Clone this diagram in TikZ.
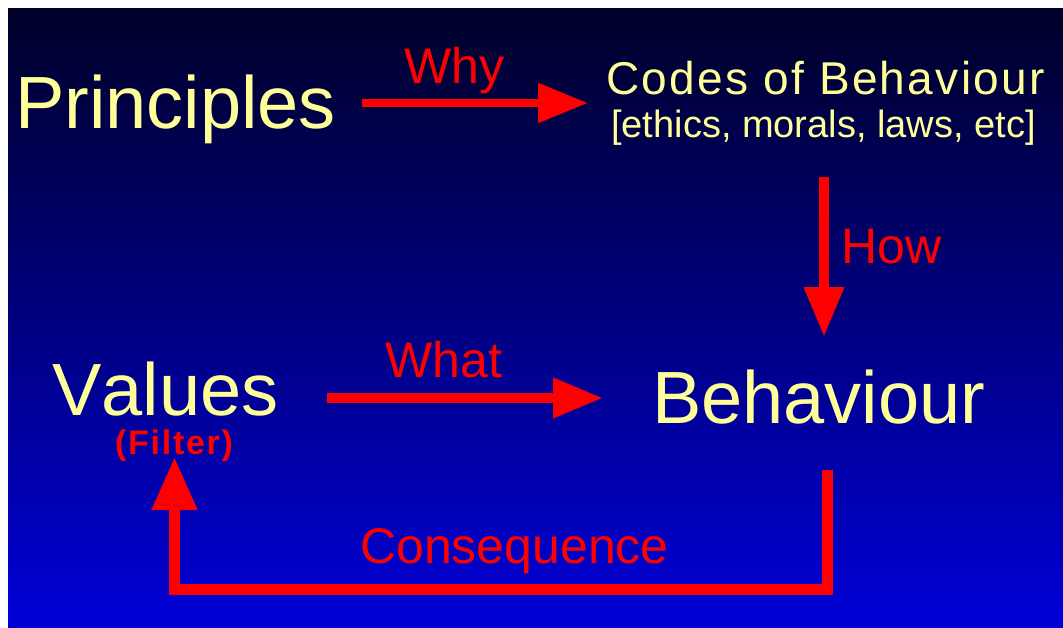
\documentclass[tikz,border=0pt]{standalone}
\usepackage{fontspec}
\setmainfont[Kerning=Off]{Liberation Sans}
\usetikzlibrary{arrows.meta}
\definecolor{txtyellow}{RGB}{255,255,153}
\definecolor{arrred}{RGB}{255,0,0}
\definecolor{bgtop}{RGB}{0,0,40}
\definecolor{bgbot}{RGB}{0,0,215}
\begin{document}
\begin{tikzpicture}[x=1pt,y=-1pt,
  bigtext/.style={text=txtyellow,font=\fontsize{74}{80}\selectfont,inner sep=0pt,anchor=base west},
  lbl/.style={text=arrred,font=\fontsize{50}{56}\selectfont,inner sep=0pt,anchor=base west},
  conn/.style={draw=arrred,line width=10pt,-{Triangle[length=50pt,width=38pt]}},
]
\useasboundingbox (0,0) rectangle (1063,627);
\shade[top color=bgtop,bottom color=bgbot] (8,8) rectangle (1063,627);

\node[bigtext] (principles) at (15,128) {Principles};
\node[text=txtyellow,font=\fontsize{46}{50}\selectfont\addfontfeature{LetterSpace=5},inner sep=0pt,anchor=base west] (codes) at (606,94) {Codes of Behaviour};
\node[text=txtyellow,font=\fontsize{38}{42}\selectfont,inner sep=0pt,anchor=base west] (ethics) at (611,137) {[ethics, morals, laws, etc]};
\node[bigtext] (values) at (52,415) {Values};
\node[text=arrred,font=\fontsize{34}{38}\selectfont\bfseries\addfontfeature{LetterSpace=5},inner sep=0pt,anchor=base west] (filter) at (115,454) {(Filter)};
\node[bigtext] (behaviour) at (652,423) {Behaviour};

\node[lbl] (why) at (404,83) {Why};
\node[lbl] (how) at (841,263) {How};
\node[lbl] (what) at (385,377) {What};
\node[lbl] (consequence) at (360,563) {Consequence};

\coordinate (whyS) at (362,103);
\coordinate (whyE) at (588,103);
\coordinate (howS) at (824,177);
\coordinate (howE) at (824,337);
\coordinate (whatS) at (327,398);
\coordinate (whatE) at (603,398);
\coordinate (conS) at (827.5,470);
\coordinate (conC1) at (827.5,589.5);
\coordinate (conC2) at (174.5,589.5);
\coordinate (conE) at (174.5,457);

\draw[conn,line width=8pt] (whyS) -- (whyE);
\draw[conn] (howS) -- (howE);
\draw[conn] (whatS) -- (whatE);
\draw[draw=arrred,line width=11pt,-{Triangle[length=53pt,width=43pt]}] (conS) -- (conC1) -- (conC2) -- (conE);
\end{tikzpicture}
\end{document}
